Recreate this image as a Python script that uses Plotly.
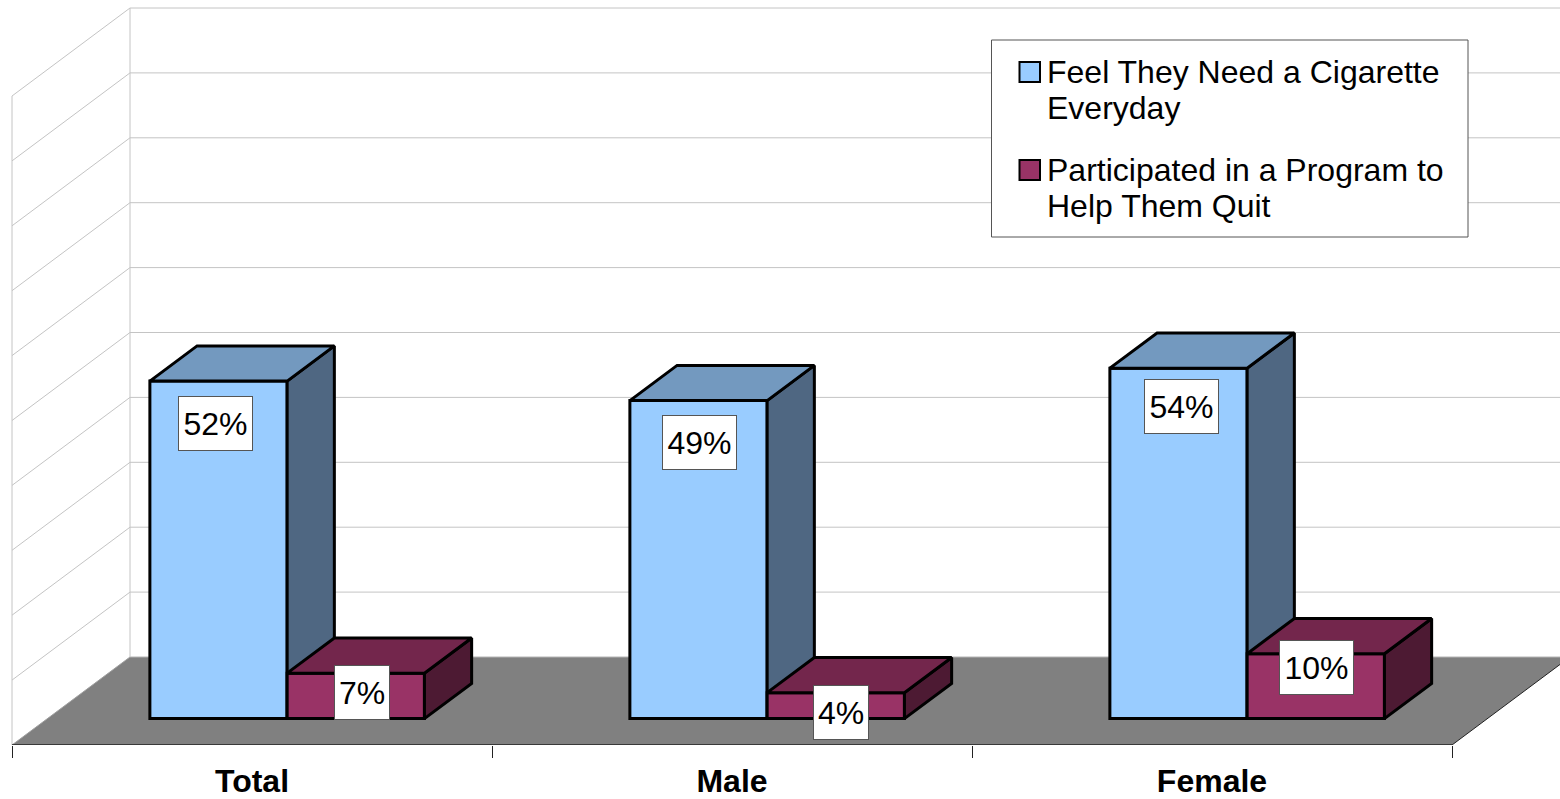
import plotly.graph_objects as go

# ---- data ----
CATEGORIES = ["Total", "Male", "Female"]
NEED_CIGARETTE = [52, 49, 54]
PARTICIPATED = [7, 4, 10]
LEGEND_A = ["Feel They Need a Cigarette", "Everyday"]
LEGEND_B = ["Participated in a Program to", "Help Them Quit"]
GRID_VALUES = [0, 10, 20, 30, 40, 50, 60, 70, 80, 90, 100]

# ---- layout constants ----
W, H = 1560, 799
PX_X0, PX_CAT = 12, 480          # pixel of category 0 edge, pixels per category
PX_Y0, PX_PCT = 745, 6.49        # pixel of 0 %, pixels per percent
DEPTH_X = 118 / PX_CAT           # floor depth, in category units
DEPTH_Y = 88 / PX_PCT            # floor depth, in percent units
BAR_FRONT, BAR_BACK = 0.3, 0.7   # bar depth as fraction of floor depth
GAP = 0.2135
BAR_W = 0.2860
FS = 32
FS_TICK = 32
FONT = "Liberation Sans"
BLACK = "#000000"
GRID = "#c4c4c4"
EDGE = 3

BLUE = dict(front="#99ccff", top="#7399bf", side="#4f6782")
RED = dict(front="#993366", top="#73264c", side="#4d1a33")

LABEL_NUDGE_A = [(-3.5, 42.5), (0.5, 41.5), (3, 38.5)]
LABEL_NUDGE_B = [(6.5, 19.5), (5.5, 20), (1, 13.5)]


def X(px):
    return (px - PX_X0) / PX_CAT


def Y(py):
    return (PX_Y0 - py) / PX_PCT


fig = go.Figure()


def poly(xs, ys, fill, ax="", line=None, width=EDGE):
    fig.add_trace(go.Scatter(
        x=xs, y=ys, mode="lines", fill="toself" if fill else None, fillcolor=fill,
        line=dict(color=line or "rgba(0,0,0,0)", width=width if line else 0),
        xaxis="x" + ax, yaxis="y" + ax, hoverinfo="skip", showlegend=False))


x_far = (W - PX_X0) / PX_CAT
n_cat = len(CATEGORIES)

# floor
poly([0, DEPTH_X, n_cat + DEPTH_X, n_cat, 0], [0, DEPTH_Y, DEPTH_Y, 0, 0], "#808080")
# walls & grid
for v in GRID_VALUES[1:]:
    poly([0, DEPTH_X, x_far], [v, v + DEPTH_Y, v + DEPTH_Y], None, line=GRID, width=1)
poly([DEPTH_X, x_far], [DEPTH_Y, DEPTH_Y], None, line="#b4b4b4", width=1)
poly([0, 0], [0, 100], None, line=GRID, width=1)
poly([DEPTH_X, DEPTH_X], [DEPTH_Y, 100 + DEPTH_Y], None, line=GRID, width=1)
poly([0, DEPTH_X], [0, DEPTH_Y], None, line="#a0a0a0", width=1)
poly([n_cat, n_cat + DEPTH_X], [0, DEPTH_Y], None, line="#222222", width=1)
fig.add_trace(go.Scatter(x=[0, n_cat], y=[0, 0], mode="lines", cliponaxis=False,
                         line=dict(color="#222222", width=1.5), hoverinfo="skip", showlegend=False))


def series(values, colors, slot, ax, name):
    base_x = BAR_FRONT * DEPTH_X
    base_y = BAR_FRONT * DEPTH_Y
    dx = (BAR_BACK - BAR_FRONT) * DEPTH_X
    dy = (BAR_BACK - BAR_FRONT) * DEPTH_Y
    lefts = [i + base_x + GAP + slot * BAR_W for i in range(len(values))]
    fig.add_trace(go.Bar(
        x=lefts, y=values, base=[base_y] * len(values), width=BAR_W, offset=0, name=name,
        marker=dict(color=colors["front"], line=dict(color=BLACK, width=EDGE)),
        xaxis="x" + ax, yaxis="y" + ax, hoverinfo="skip", showlegend=False))
    for l, v in zip(lefts, values):
        r = l + BAR_W
        t = base_y + v
        poly([r, r + dx, r + dx, r, r], [base_y, base_y + dy, t + dy, t, base_y],
             colors["side"], ax, line=BLACK)
        poly([l, l + dx, r + dx, r, l], [t, t + dy, t + dy, t, t],
             colors["top"], ax, line=BLACK)
    return lefts


lefts_a = series(NEED_CIGARETTE, BLUE, 0, "2", " ".join(LEGEND_A))
lefts_b = series(PARTICIPATED, RED, 1, "3", " ".join(LEGEND_B))

annotations = []
for lefts, vals, nudges in ((lefts_a, NEED_CIGARETTE, LABEL_NUDGE_A), (lefts_b, PARTICIPATED, LABEL_NUDGE_B)):
    for l, v, (nx, ny) in zip(lefts, vals, nudges):
        annotations.append(dict(
            x=l + BAR_W / 2 + nx / PX_CAT, y=BAR_FRONT * DEPTH_Y + v - ny / PX_PCT,
            text=f"{v}%", showarrow=False, xref="x", yref="y",
            font=dict(family=FONT, size=FS, color=BLACK),
            bgcolor="#ffffff", bordercolor="#555555", borderwidth=1, borderpad=0,
            width=(73 if v >= 10 else 54), height=53, align="center", valign="middle"))

# legend, drawn from the same names
for text, py in zip(LEGEND_A + LEGEND_B, [72, 108, 170, 206]):
    annotations.append(dict(
        x=X(1046), y=Y(py), text=text, showarrow=False, xanchor="left", yanchor="middle",
        xref="x", yref="y", borderpad=0, font=dict(family=FONT, size=FS, color=BLACK)))

shapes = [
    dict(type="rect", xref="x", yref="y", x0=X(991.5), x1=X(1468), y0=Y(40), y1=Y(237),
         fillcolor="#ffffff", line=dict(color="#555555", width=1), layer="above"),
    dict(type="rect", xref="x", yref="y", x0=X(1019.5), x1=X(1040), y0=Y(62), y1=Y(82),
         fillcolor=BLUE["front"], line=dict(color=BLACK, width=2), layer="above"),
    dict(type="rect", xref="x", yref="y", x0=X(1019.5), x1=X(1040), y0=Y(160), y1=Y(180),
         fillcolor=RED["front"], line=dict(color=BLACK, width=2), layer="above"),
]

x_range = [X(0), X(W)]
y_range = [0, Y(0)]
hidden = dict(visible=False, fixedrange=True, automargin=False)

fig.update_layout(
    width=W, height=H, autosize=False,
    margin=dict(l=0, r=0, t=0, b=H - PX_Y0, pad=0),
    paper_bgcolor="#ffffff", plot_bgcolor="#ffffff",
    barmode="overlay", showlegend=False,
    font=dict(family=FONT, color=BLACK),
    xaxis=dict(range=x_range, showgrid=False, zeroline=False, showline=False, fixedrange=True,
               automargin=False,
               tickmode="array", tickvals=[i + 0.5 for i in range(n_cat)], ticktext=CATEGORIES,
               ticks="", ticklen=0, ticklabelstandoff=14,
               tickfont=dict(family=FONT, size=FS_TICK, color=BLACK, weight="bold"),
               minor=dict(tickmode="array", tickvals=list(range(n_cat + 1)), ticks="outside",
                          ticklen=12, tickwidth=1, tickcolor="#222222", showgrid=False)),
    yaxis=dict(range=y_range, visible=False, fixedrange=True, automargin=False),
    xaxis2=dict(range=x_range, overlaying="x", anchor="y2", **hidden),
    yaxis2=dict(range=y_range, overlaying="y", anchor="x2", **hidden),
    xaxis3=dict(range=x_range, overlaying="x", anchor="y3", **hidden),
    yaxis3=dict(range=y_range, overlaying="y", anchor="x3", **hidden),
    annotations=annotations,
    shapes=shapes,
)

fig.write_html("out.html", config=dict(displayModeBar=False),
               post_script="document.body.style.margin='0';")
